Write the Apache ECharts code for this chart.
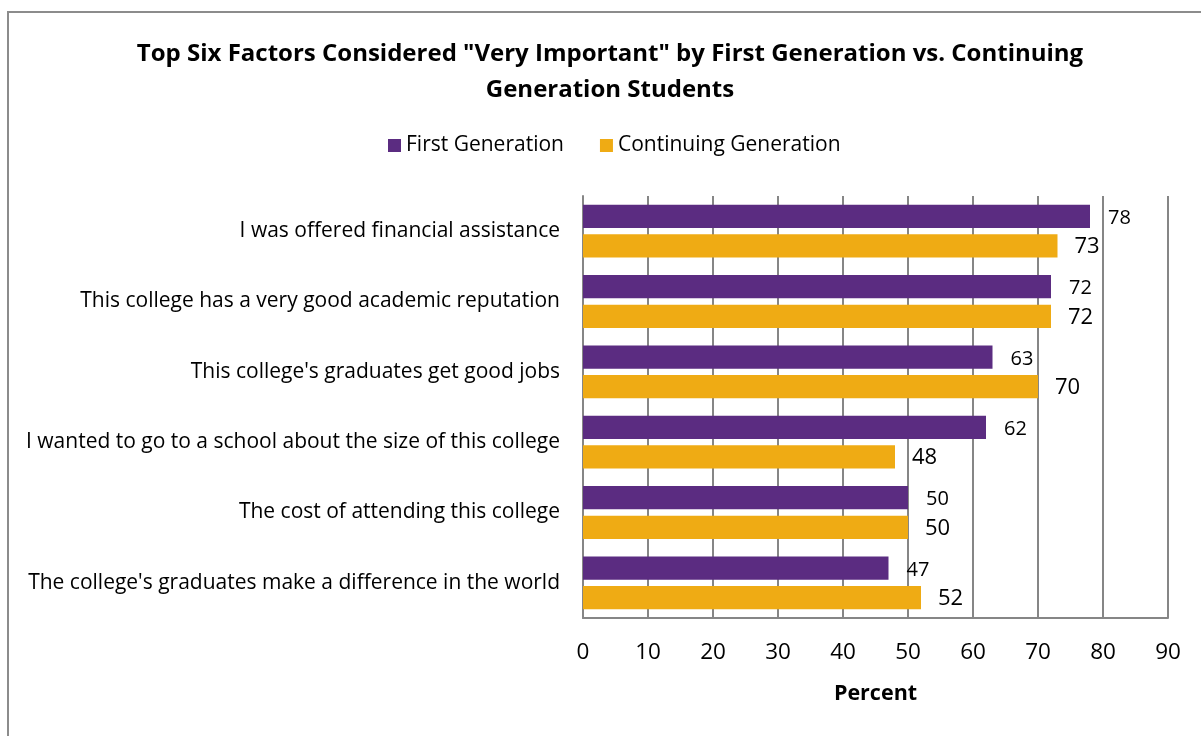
<!DOCTYPE html>
<html><head><meta charset="utf-8">
<script src="https://cdn.jsdelivr.net/npm/echarts@6/dist/echarts.min.js"></script>
<style>html,body{margin:0;padding:0;background:#fff;}#c{width:1201px;height:736px;}</style>
</head><body><div id="c"></div>
<script>
const categories = [
  "I was offered financial assistance",
  "This college has a very good academic reputation",
  "This college's graduates get good jobs",
  "I wanted to go to a school about the size of this college",
  "The cost of attending this college",
  "The college's graduates make a difference in the world"
];
const firstGeneration = [78, 72, 63, 62, 50, 47];
const continuingGeneration = [73, 72, 70, 48, 50, 52];
const xTicks = [0, 10, 20, 30, 40, 50, 60, 70, 80, 90];

const FONT = "Open Sans";
const chart = echarts.init(document.getElementById('c'));
chart.setOption({
  backgroundColor: '#fff',
  animation: false,
  title: {
    text: 'Top Six Factors Considered "Very Important" by First Generation vs. Continuing\nGeneration Students',
    left: 605, top: 31, textAlign: 'center',
    textStyle: {fontFamily: FONT, fontWeight: 'bold', fontSize: 24, lineHeight: 36, color: '#000'}
  },
  legend: {
    top: 130, left: 383, itemWidth: 13, itemHeight: 13, itemGap: 36,
    icon: 'rect',
    textStyle: {fontFamily: FONT, fontSize: 21, color: '#000'},
    data: ['First Generation', 'Continuing Generation']
  },
  graphic: [{
    type: 'rect', shape: {x: 8, y: 12, width: 1300, height: 800},
    style: {fill: 'none', stroke: '#8c8c8c', lineWidth: 2}, silent: true, z: -1
  }],
  grid: {left: 583, right: 33, top: 196, bottom: 118},
  xAxis: {
    type: 'value', min: 0, max: 90, interval: 10,
    name: 'Percent', nameLocation: 'middle', nameGap: 65,
    nameTextStyle: {fontFamily: FONT, fontWeight: 'bold', fontSize: 21.5, color: '#000'},
    axisLine: {show: true, lineStyle: {color: '#868686', width: 2}},
    axisTick: {show: false},
    axisLabel: {fontFamily: FONT, fontSize: 22.5, color: '#000', margin: 23,
      formatter: v => xTicks.includes(v) ? String(v) : ''},
    splitLine: {show: true, lineStyle: {color: '#868686', width: 2}}
  },
  yAxis: {
    type: 'category', data: categories, inverse: true,
    axisLine: {show: true, lineStyle: {color: '#868686', width: 2}},
    axisTick: {show: false},
    axisLabel: {fontFamily: FONT, fontSize: 21, color: '#000', margin: 23}
  },
  series: [
    {
      name: 'First Generation', type: 'bar', data: firstGeneration,
      barWidth: 23.3, barGap: '27%',
      itemStyle: {color: '#5B2C81'},
      label: {show: true, position: 'right', distance: 18, fontFamily: FONT, fontSize: 20, color: '#000', offset: [0, 2]}
    },
    {
      name: 'Continuing Generation', type: 'bar', data: continuingGeneration,
      barWidth: 23.3,
      itemStyle: {color: '#EFAB14'},
      label: {show: true, position: 'right', distance: 17, fontFamily: FONT, fontSize: 22, color: '#000', offset: [0, 1]}
    }
  ]
});
</script></body></html>
